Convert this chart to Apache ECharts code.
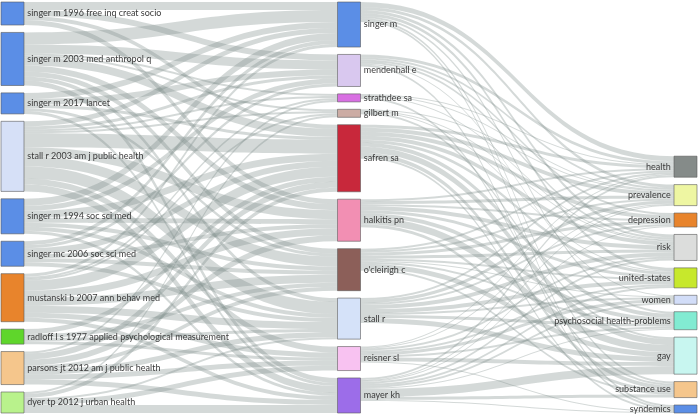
<!DOCTYPE html>
<html>
<head>
<meta charset="utf-8">
<script src="https://cdn.jsdelivr.net/npm/echarts@6/dist/echarts.min.js"></script>
<style>html,body{margin:0;padding:0;background:#fff}#c{width:700px;height:415px}</style>
</head>
<body>
<div id="c"></div>
<script>
// Left column: cited references
const refs = ['singer m 1996 free inq creat socio','singer m 2003 med anthropol q','singer m 2017 lancet','stall r 2003 am j public health','singer m 1994 soc sci med','singer mc 2006 soc sci med','mustanski b 2007 ann behav med','radloff l s 1977 applied psychological measurement','parsons jt 2012 am j public health','dyer tp 2012 j urban health'];
const refColors = ['#5b8ee6','#5b8ee6','#5b8ee6','#d6e0f7','#5b8ee6','#5b8ee6','#e8842c','#5fd62b','#f5c68c','#b9f28c'];
// Middle column: authors
const authors = ['singer m','mendenhall e','strathdee sa','gilbert m','safren sa','halkitis pn',"o'cleirigh c",'stall r','reisner sl','mayer kh'];
const authorColors = ['#5b8ee6','#d9c8ef','#d86fe2','#ccaca4','#c8283b','#f28fb3','#8c5f59','#d5e2f9','#f8c2f1','#9c6de9'];
// Right column: keywords
const keywords = ['health','prevalence','depression','risk','united-states','women','psychosocial health-problems','gay','substance use','syndemics'];
const keywordColors = ['#858b89','#eef6a2','#e8842c','#dcdddc','#c7e82c','#d2ddf8','#82ebd2','#c8f6f0','#f5c68c','#5b8ee6'];

// refs x authors
const refAuthor = [
  [8,6,0,0,4,5,0,0,0,0],
  [12,9,2,2,8,6,5,4,0,5],
  [6,6,0,0,3,0,3,0,0,3],
  [5,3,2,2,14,9,10,12,6,7],
  [7,5,0,0,7,5,4,4,0,3],
  [4,3,0,0,6,4,4,4,0,0],
  [3,0,2,2,10,7,8,7,5,4],
  [0,0,0,0,5,0,4,3,3,0],
  [0,0,2,0,6,6,4,5,5,5],
  [0,0,0,2,4,0,0,2,5,8]
];
// authors x keywords
const authorKeyword = [
  [5,3,0,3,3,0,2,0,2,2],
  [3,2,2,2,0,1,0,0,0,2],
  [1,1,0,1,0,0,0,0,2,0],
  [0,1,0,1,1,0,0,2,0,0],
  [3,4,4,4,3,0,4,6,4,2],
  [2,3,2,4,3,0,4,7,3,0],
  [2,2,3,3,2,1,2,5,2,0],
  [2,3,2,4,4,2,3,5,0,0],
  [1,1,0,2,2,3,2,4,0,1],
  [2,1,1,2,2,2,1,8,3,1]
];

const TOP = 2, BOTTOM = 2, H = 415 - TOP - BOTTOM, GAP = 7.4;

const sum = a => a.reduce((s, v) => s + v, 0);
const refVals = refAuthor.map(sum);
const authIn = authors.map((_, j) => sum(refAuthor.map(r => r[j])));
const authOut = authorKeyword.map(sum);
const authVals = authors.map((_, j) => Math.max(authIn[j], authOut[j]));
const kwVals = keywords.map((_, k) => sum(authorKeyword.map(r => r[k])));
// same scale as the library's layout, used to stack the keyword column at the bottom
const ky = Math.min(...[refVals, authVals, kwVals].map(v => (H - (v.length - 1) * GAP) / sum(v)));

const labelBase = {color: '#3a3a3a', fontSize: 9, fontFamily: 'Lato'};
const nodes = [];
refs.forEach((n, i) => nodes.push({name: n, itemStyle: {color: refColors[i]}, label: Object.assign({position: 'right'}, labelBase)}));
authors.forEach((n, i) => nodes.push({name: n, itemStyle: {color: authorColors[i]}, label: Object.assign({position: 'right'}, labelBase)}));
keywords.forEach((n, i) => {
  const below = kwVals.slice(i).reduce((s, v) => s + v, 0) * ky + (keywords.length - 1 - i) * GAP;
  nodes.push({name: n, itemStyle: {color: keywordColors[i]}, localY: (H - below) / H,
    label: Object.assign({position: 'left'}, labelBase)});
});
const links = [];
refAuthor.forEach((row, i) => row.forEach((v, j) => { if (v > 0) links.push({source: refs[i], target: authors[j], value: v}); }));
authorKeyword.forEach((row, j) => row.forEach((v, k) => { if (v > 0) links.push({source: authors[j], target: keywords[k], value: v}); }));

const chart = echarts.init(document.getElementById('c'), null, {renderer: 'canvas'});
chart.setOption({
  animation: false,
  series: [{
    type: 'sankey',
    left: 1, right: 3, top: TOP, bottom: BOTTOM,
    nodeWidth: 23,
    nodeGap: GAP,
    layoutIterations: 0,
    draggable: false,
    data: nodes,
    links: links,
    itemStyle: {borderColor: '#5a5a5a', borderWidth: 0.6},
    lineStyle: {color: '#7d8b88', opacity: 0.33, curveness: 0.5},
    label: {distance: 3},
    emphasis: {disabled: true}
  }]
});
</script>
</body>
</html>
